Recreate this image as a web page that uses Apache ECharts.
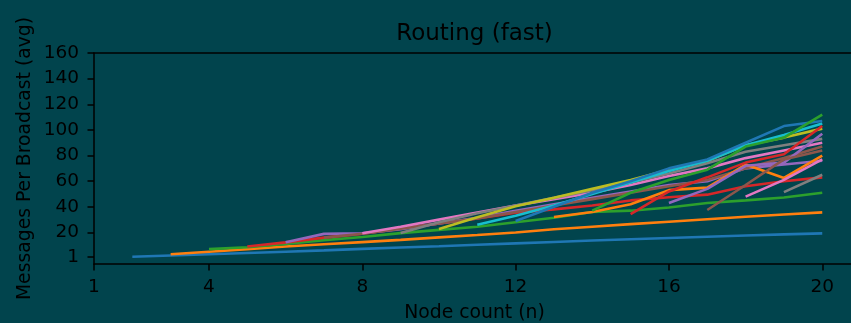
<!DOCTYPE html>
<html>
<head>
<meta charset="utf-8">
<script src="https://cdn.jsdelivr.net/npm/echarts@6/dist/echarts.min.js"></script>
<style>
html,body{margin:0;padding:0;background:#01444d;}
#c{width:851px;height:323px;}
</style>
</head>
<body>
<div id="c"></div>
<script>
// ---- data ----
const title = 'Routing (fast)';
const xName = 'Node count (n)';
const yName = 'Messages Per Broadcast (avg)';
const xTicks = [1, 4, 8, 12, 16, 20];
const yTicks = [1, 20, 40, 60, 80, 100, 120, 140, 160];
// each series starts at its own node count and runs to n = 20
const startN = [2, 3, 4, 5, 6, 7, 8, 9, 10, 11, 12, 13, 14, 15, 16, 17, 18, 19];
const s1 = [1, 2, 3, 4, 5, 6, 7.2, 8.3, 9.3, 10.4, 11.5, 12.6, 13.7, 14.7, 15.7, 16.7, 17.6, 18.5, 19.3];
const s2 = [3, 5, 7, 9, 10.8, 12.5, 14.2, 16.2, 18, 20, 22.5, 24.5, 26.5, 28.4, 30.3, 32.2, 34, 35.7];
const s3 = [7, 8.5, 11, 14, 16.5, 19.5, 22, 24.5, 28, 31.5, 36, 37, 39.5, 43, 45, 47.3, 51];
const s4 = [9, 12.3, 16, 19, 23, 27, 31, 35.5, 38, 41, 45, 47.5, 49.5, 56, 60, 63];
const s5 = [12.4, 18.9, 19.4, 22.5, 27, 31.5, 37, 42, 47, 52, 57, 60, 70, 73, 76];
const s6 = [16, 19, 23, 27, 31, 36, 41, 46, 51, 56, 61, 70, 78, 87];
const s7 = [19.4, 24.5, 30, 35.5, 41, 46, 51, 57, 64, 70, 78, 84, 90];
const s8 = [19.5, 28, 35, 41, 47, 53, 59, 66, 74, 83, 88, 93];
const s9 = [22.7, 31.8, 40.5, 47, 54, 61, 69, 76, 88, 94, 101];
const s10 = [26, 33, 41, 50, 59, 68, 76, 88, 96, 105];
const s11 = [29, 40, 51, 60, 70, 77, 90, 103, 107];
const s12 = [32, 36, 42, 53, 55, 73, 62.5, 80];
const s13 = [37, 51, 61, 69, 87, 94, 112];
const s14 = [34.4, 52, 63, 74.5, 81, 103];
const s15 = [43, 54, 72, 74.5, 97];
const s16 = [37.5, 57, 77, 84];
const s17 = [48, 61, 77];
const s18 = [51.5, 65];
const allSeries = [s1, s2, s3, s4, s5, s6, s7, s8, s9, s10, s11, s12, s13, s14, s15, s16, s17, s18];
const palette = ['#1f77b4', '#ff7f0e', '#2ca02c', '#d62728', '#9467bd', '#8c564b', '#e377c2', '#7f7f7f', '#bcbd22', '#17becf'];

// ---- chart ----
const font = 'DejaVu Sans';
const ink = '#000000';
const chart = echarts.init(document.getElementById('c'), null, {renderer: 'canvas'});
const series = allSeries.map((vals, i) => ({
  type: 'line',
  data: vals.map((v, k) => [startN[i] + k, v]),
  showSymbol: false,
  symbol: 'none',
  lineStyle: {width: 2.6, color: palette[i % palette.length]},
  itemStyle: {color: palette[i % palette.length]},
  silent: true,
  animation: false
}));
const axisLineStyle = {lineStyle: {color: ink, width: 1.5}};
chart.setOption({
  backgroundColor: '#01444d',
  animation: false,
  grid: {left: 94, top: 53, right: 0, bottom: 59, containLabel: false},
  xAxis: [{
    type: 'value', min: 1, max: 20.75,
    axisLine: {show: true, onZero: false, ...axisLineStyle},
    axisTick: {show: true, inside: false, length: 6.5, lineStyle: {color: ink, width: 1.5}, customValues: xTicks},
    axisLabel: {customValues: xTicks, color: ink, fontFamily: font, fontSize: 18.5, margin: 14},
    splitLine: {show: false}
  }, {
    type: 'value', position: 'top', min: 1, max: 20.75,
    axisLine: {show: true, onZero: false, ...axisLineStyle},
    axisTick: {show: false}, axisLabel: {show: false}, splitLine: {show: false}
  }],
  yAxis: [{
    type: 'value', min: -4.6, max: 160,
    axisLine: {show: true, onZero: false, ...axisLineStyle},
    axisTick: {show: true, inside: false, length: 6.5, lineStyle: {color: ink, width: 1.5}, customValues: yTicks},
    axisLabel: {customValues: yTicks, color: ink, fontFamily: font, fontSize: 18.5, margin: 15},
    splitLine: {show: false}
  }],
  series: series,
  graphic: [
    {type: 'text', x: 474.5, y: 34, style: {text: title, fontFamily: font, fontSize: 23, fill: ink, textAlign: 'center', textVerticalAlign: 'middle'}, silent: true},
    {type: 'text', x: 474.5, y: 313, style: {text: xName, fontFamily: font, fontSize: 18.8, fill: ink, textAlign: 'center', textVerticalAlign: 'middle'}, silent: true},
    {type: 'text', x: 25, y: 158.5, rotation: Math.PI / 2, style: {text: yName, fontFamily: font, fontSize: 18.8, fill: ink, textAlign: 'center', textVerticalAlign: 'middle'}, silent: true}
  ]
});
</script>
</body>
</html>
